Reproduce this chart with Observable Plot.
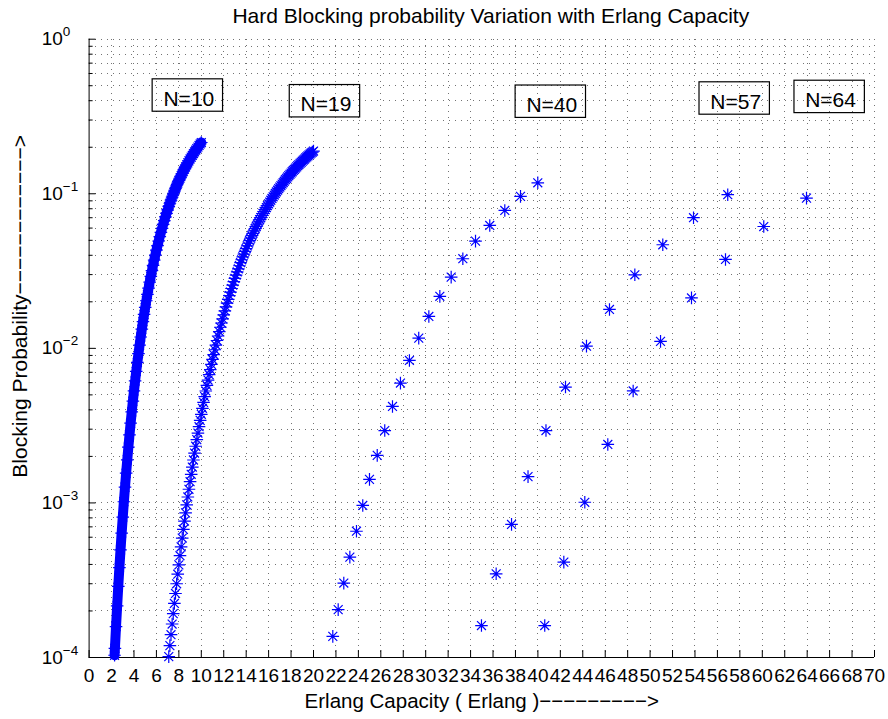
<!DOCTYPE html>
<html>
<head>
<meta charset="utf-8">
<script src="https://cdn.jsdelivr.net/npm/d3@7"></script>
<script src="https://cdn.jsdelivr.net/npm/@observablehq/plot@0.6"></script>
<style>
  html, body { margin: 0; padding: 0; background: #fff; }
  #chart svg { display: block; }
</style>
</head>
<body>
<div id="chart"></div>
<script>
// ---------------- text ----------------
const titleText = "Hard Blocking probability Variation with Erlang Capacity";
const xLabelText = "Erlang Capacity ( Erlang )−−−−−−−−−>";
const yLabelText = "Blocking Probability−−−−−−−−−−−−>";

// ---------------- ticks ----------------
const xTicks = [0,2,4,6,8,10,12,14,16,18,20,22,24,26,28,30,32,34,36,38,40,42,44,46,48,50,52,54,56,58,60,62,64,66,68,70];
const yMajor = [1e-4, 1e-3, 1e-2, 1e-1, 1];
const yExpLabels = ["−4", "−3", "−2", "−1", "0"];
const yMinor = [2e-4,3e-4,4e-4,5e-4,6e-4,7e-4,8e-4,9e-4,
                2e-3,3e-3,4e-3,5e-3,6e-3,7e-3,8e-3,9e-3,
                2e-2,3e-2,4e-2,5e-2,6e-2,7e-2,8e-2,9e-2,
                2e-1,3e-1,4e-1,5e-1,6e-1,7e-1,8e-1,9e-1];

// ---------------- series: N = 10 ----------------
const n10A = [2.27,2.3,2.4,2.5,2.6,2.7,2.8,2.9,3.0,3.1,3.2,3.3,3.4,3.5,3.6,3.7,3.8,3.9,4.0,
  4.1,4.2,4.3,4.4,4.5,4.6,4.7,4.8,4.9,5.0,5.1,5.2,5.3,5.4,5.5,5.6,5.7,5.8,5.9,6.0,
  6.1,6.2,6.3,6.4,6.5,6.6,6.7,6.8,6.9,7.0,7.1,7.2,7.3,7.4,7.5,7.6,7.7,7.8,7.9,8.0,
  8.1,8.2,8.3,8.4,8.5,8.6,8.7,8.8,8.9,9.0,9.1,9.2,9.3,9.4,9.5,9.6,9.7,9.8,9.9,10.0];
const n10B = [1.034e-4,1.145e-4,1.585e-4,2.158e-4,2.889e-4,3.814e-4,4.965e-4,6.381e-4,8.103e-4,
  1.018e-3,1.265e-3,1.557e-3,1.899e-3,2.298e-3,2.756e-3,3.281e-3,3.878e-3,4.550e-3,5.308e-3,
  6.151e-3,7.087e-3,8.121e-3,9.254e-3,0.01049,0.01184,0.01330,0.01488,0.01657,0.01839,
  0.02032,0.02237,0.02455,0.02685,0.02926,0.03181,0.03446,0.03725,0.04013,0.04314,
  0.04626,0.04949,0.05282,0.05625,0.05976,0.06339,0.06710,0.07091,0.07478,0.07874,
  0.08278,0.08686,0.09102,0.09526,0.09954,0.1039,0.1083,0.1127,0.1171,0.1216,
  0.1262,0.1307,0.1353,0.1400,0.1446,0.1492,0.1539,0.1585,0.1632,0.1679,
  0.1726,0.1773,0.1820,0.1867,0.1913,0.1960,0.2007,0.2053,0.2100,0.2146];

// ---------------- series: N = 19 ----------------
const n19A = [7.1,7.2,7.3,7.4,7.5,7.6,7.7,7.8,7.9,8.0,8.1,8.2,8.3,8.4,8.5,8.6,8.7,8.8,8.9,9.0,
  9.1,9.2,9.3,9.4,9.5,9.6,9.7,9.8,9.9,10.0,10.1,10.2,10.3,10.4,10.5,10.6,10.7,10.8,10.9,11.0,
  11.1,11.2,11.3,11.4,11.5,11.6,11.7,11.8,11.9,12.0,12.1,12.2,12.3,12.4,12.5,12.6,12.7,12.8,12.9,13.0,
  13.1,13.2,13.3,13.4,13.5,13.6,13.7,13.8,13.9,14.0,14.1,14.2,14.3,14.4,14.5,14.6,14.7,14.8,14.9,15.0,
  15.1,15.2,15.3,15.4,15.5,15.6,15.7,15.8,15.9,16.0,16.1,16.2,16.3,16.4,16.5,16.6,16.7,16.8,16.9,17.0,
  17.1,17.2,17.3,17.4,17.5,17.6,17.7,17.8,17.9,18.0,18.1,18.2,18.3,18.4,18.5,18.6,18.7,18.8,18.9,19.0,
  19.1,19.2,19.3,19.4,19.5,19.6,19.7,19.8,19.9,20.0];
const n19B = [1.013e-4,1.194e-4,1.405e-4,1.647e-4,1.922e-4,2.237e-4,2.595e-4,2.999e-4,3.458e-4,3.975e-4,
  4.555e-4,5.200e-4,5.928e-4,6.737e-4,7.632e-4,8.622e-4,9.720e-4,1.0925e-3,1.2257e-3,1.3715e-3,
  1.5312e-3,1.7058e-3,1.8953e-3,2.1025e-3,2.3261e-3,2.5684e-3,2.8309e-3,3.1131e-3,3.4190e-3,3.7448e-3,
  4.0956e-3,4.4704e-3,4.8724e-3,5.2985e-3,5.7541e-3,6.2384e-3,6.7517e-3,7.2938e-3,7.8707e-3,8.4777e-3,
  9.1148e-3,9.791e-3,0.010499,0.011239,0.012024,0.012838,0.013695,0.014587,0.015518,0.016487,
  0.017497,0.018541,0.019634,0.020757,0.021927,0.023135,0.024380,0.025673,0.026999,0.028363,
  0.029775,0.031220,0.032711,0.034234,0.035805,0.037420,0.039064,0.040749,0.042459,0.044227,
  0.046017,0.047863,0.049730,0.051612,0.053556,0.055511,0.057520,0.059537,0.061611,0.063687,
  0.065817,0.067942,0.070124,0.072331,0.074559,0.076802,0.079097,0.081406,0.083730,0.086063,
  0.088444,0.090830,0.093224,0.095621,0.098060,0.10054,0.10302,0.10549,0.10800,0.11050,
  0.11304,0.11557,0.11814,0.12068,0.12326,0.12581,0.12840,0.13101,0.13360,0.13621,
  0.13884,0.14145,0.14408,0.14673,0.14934,0.15197,0.15461,0.15728,0.15989,0.16251,
  0.16516,0.16782,0.17049,0.17310,0.17572,0.17841,0.18104,0.18368,0.18624,0.18888];

// ---------------- series: N = 40, 57, 64 ----------------
const n40A = [21.72,22.20,22.70,23.24,23.83,24.39,24.99,25.68,26.35,27.04,27.75,28.55,29.38,30.28,31.26,32.27,33.31,34.44,35.71,37.05,38.45,39.99];
const n40B = [1.37e-4,2.04e-4,3.03e-4,4.46e-4,6.56e-4,9.63e-4,1.42e-3,2.03e-3,2.94e-3,4.21e-3,5.96e-3,8.35e-3,0.01164,0.01608,0.0217,0.0289,0.0380,0.0494,0.0624,0.0780,0.0962,0.1178];
const n57A = [34.97,36.28,37.65,39.12,40.72,42.46,44.33,46.38,48.64,51.13,53.87,56.92];
const n57B = [1.61e-4,3.48e-4,7.26e-4,1.48e-3,2.94e-3,5.62e-3,0.01033,0.01785,0.0299,0.0468,0.0700,0.0986];
const n64A = [40.61,42.31,44.18,46.23,48.49,50.93,53.69,56.72,60.13,63.94];
const n64B = [1.61e-4,4.14e-4,1.01e-3,2.39e-3,5.30e-3,0.01109,0.0212,0.0376,0.0614,0.0937];

// ---------------- annotations ----------------
const labelText = ["N=10", "N=19", "N=40", "N=57", "N=64"];
const labelX = [8.89, 21.11, 41.24, 57.63, 66.08];
const labelY = [0.4115, 0.378, 0.3753, 0.3937, 0.4031];

// ---------------- build ----------------
const toPts = (A, B) => A.map((a, i) => ({a, b: B[i]}));
const s10 = toPts(n10A, n10B);
const s19 = toPts(n19A, n19B);
const s40 = toPts(n40A, n40B);
const s57 = toPts(n57A, n57B);
const s64 = toPts(n64A, n64B);
const labels = labelText.map((t, i) => ({t, x: labelX[i], y: labelY[i]}));
const yTickData = yMajor.map((v, i) => ({v, e: yExpLabels[i]}));

const W = 888, H = 719;
const mL = 88.6, mR = 14, mT = 38.7, mB = 62;
const fw = W - mL - mR, fh = H - mT - mB;
const BLUE = "#0000ff";
const FONT = "'Liberation Sans', Arial, Helvetica, sans-serif";

// MATLAB-like '*' marker (plus + cross)
const asterisk = {
  draw(context, size) {
    const r = Math.sqrt(size / Math.PI);
    const d = r * Math.SQRT1_2;
    context.moveTo(-r, 0); context.lineTo(r, 0);
    context.moveTo(0, -r); context.lineTo(0, r);
    context.moveTo(-d, -d); context.lineTo(d, d);
    context.moveTo(-d, d); context.lineTo(d, -d);
  }
};
const dotOpts = {x: "a", y: "b", symbol: asterisk, r: 6.3, stroke: BLUE, fill: "none", strokeWidth: 1.2};
const gridOpts = {stroke: "#000", strokeOpacity: 0.55, strokeWidth: 1, strokeDasharray: "1,5", shapeRendering: "crispEdges"};

const svg = Plot.plot({
  width: W, height: H,
  marginLeft: mL, marginRight: mR, marginTop: mT, marginBottom: mB,
  style: {fontFamily: FONT, fontSize: "19px", color: "#000", background: "#fff", overflow: "visible"},
  x: {domain: [0, 70]},
  y: {type: "log", domain: [1e-4, 1], axis: null},
  marks: [
    // dotted grid
    Plot.ruleY(yMinor, {y: d => d, ...gridOpts}),
    Plot.ruleY(yMajor.slice(1), {y: d => d, ...gridOpts}),
    Plot.ruleX(xTicks.slice(1), {x: d => d, ...gridOpts}),
    // axis lines
    Plot.ruleX([0], {x: d => d, stroke: "#000", strokeWidth: 1}),
    Plot.ruleY([1e-4], {y: d => d, stroke: "#000", strokeWidth: 1}),
    // inward ticks
    Plot.tickX(xTicks, {x: d => d, insetTop: fh - 7, stroke: "#000", strokeWidth: 1}),
    Plot.tickY(yMajor, {y: d => d, insetRight: fw - 7, stroke: "#000", strokeWidth: 1}),
    Plot.tickY(yMinor, {y: d => d, insetRight: fw - 4, stroke: "#000", strokeWidth: 1}),
    // tick labels
    Plot.axisX({ticks: xTicks, tickSize: 0, tickPadding: 11, label: null, fontSize: 19, tickFormat: d => String(d)}),
    Plot.text(yTickData, {y: "v", text: d => "10^" + d.e, frameAnchor: "left", textAnchor: "start", dx: -47.4, fontSize: 19, fill: "#000"}),
    // data
    Plot.line(s10, {x: "a", y: "b", stroke: BLUE, strokeWidth: 10}),
    Plot.dot(s10, dotOpts),
    Plot.dot(s19, dotOpts),
    Plot.dot(s40, dotOpts),
    Plot.dot(s57, dotOpts),
    Plot.dot(s64, dotOpts),
    // annotations
    Plot.text(labels, {x: "x", y: "y", text: "t", fontSize: 21, fill: "#000"}),
    // titles
    Plot.text([titleText], {text: d => d, frameAnchor: "top", lineAnchor: "bottom", dx: 9, dy: -16, fontSize: 21, fill: "#000"}),
    Plot.text([xLabelText], {text: d => d, frameAnchor: "bottom", lineAnchor: "bottom", dy: 50, fontSize: 20.5, fill: "#000"}),
    Plot.text([yLabelText], {text: d => d, frameAnchor: "left", textAnchor: "middle", rotate: -90, dx: -68.6, dy: -42, fontSize: 21, fill: "#000"})
  ]
});

document.getElementById("chart").appendChild(svg);

const NS = "http://www.w3.org/2000/svg";
svg.querySelectorAll("text").forEach(t => {
  const s = t.textContent;
  // superscript exponents for the log-axis labels
  if (s.startsWith("10^")) {
    t.textContent = "10";
    const sup = document.createElementNS(NS, "tspan");
    sup.setAttribute("dy", "-9");
    sup.setAttribute("font-size", "13.5");
    sup.textContent = s.slice(3);
    t.appendChild(sup);
  }
  // boxes around the N= labels
  else if (/^N=\d+$/.test(s)) {
    const b = t.getBBox();
    const cx = b.x + b.width / 2 - 1.5;
    const cy = b.y + b.height / 2 - 3;
    const r = document.createElementNS(NS, "rect");
    r.setAttribute("x", cx - 35.2);
    r.setAttribute("y", cy - 16.2);
    r.setAttribute("width", 70.4);
    r.setAttribute("height", 32.4);
    r.setAttribute("fill", "none");
    r.setAttribute("stroke", "#000");
    r.setAttribute("stroke-width", "1.2");
    const tr = t.getAttribute("transform");
    if (tr) r.setAttribute("transform", tr);
    t.parentNode.insertBefore(r, t);
  }
});
</script>
</body>
</html>
